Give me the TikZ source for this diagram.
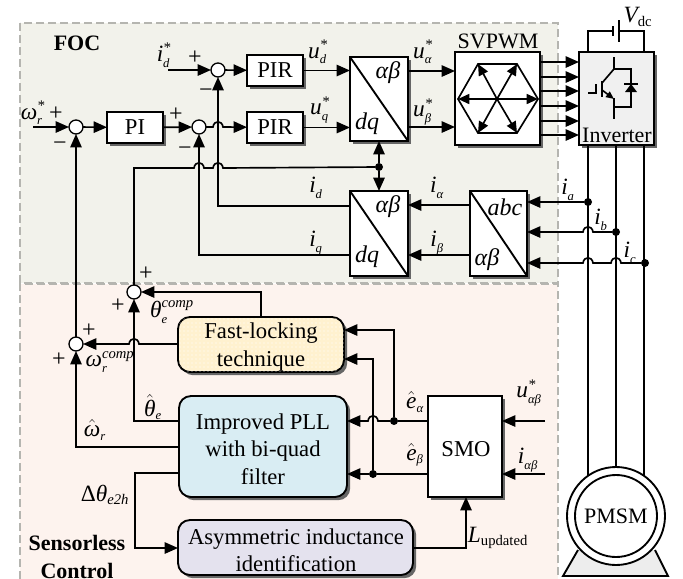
\documentclass[tikz,border=0pt]{standalone}
\usepackage{fontspec}
\setmainfont{Liberation Serif}
\usetikzlibrary{arrows.meta,shadows,fit,patterns}
\newcommand{\fs}[1]{\fontsize{#1}{#1}\selectfont}
\newcommand{\sv}[3]{$\mbox{\itshape #1}_{\mbox{\fs{9.5}\itshape #2}}^{\mbox{\fs{11}\itshape #3}}$}
\newcommand{\hv}[2]{$\hat{\mbox{\itshape #1}}_{\mbox{\fs{9.5}\itshape #2}}$}
\newcommand{\jl}[2]{-- (#1+5,#2) .. controls (#1+4,#2-7) and (#1-4,#2-7) .. (#1-5,#2)}
\newcommand{\jr}[2]{-- (#1-5,#2) .. controls (#1-4,#2-7) and (#1+4,#2-7) .. (#1+5,#2)}
\definecolor{focbg}{HTML}{F2F2EB}
\definecolor{smcbg}{HTML}{FDF3EE}
\definecolor{dashc}{HTML}{B5B5B0}
\definecolor{fastc}{HTML}{FFF1CF}
\definecolor{pllc}{HTML}{D9EDF3}
\definecolor{asymc}{HTML}{E4E2EE}
\tikzset{
  wire/.style={line width=1.25pt,line join=miter},
  arr/.style={wire,-{Triangle[length=10pt,width=8.5pt]}},
  harr/.style={wire,-{Triangle[length=8.5pt,width=7.5pt]}},
  region/.style={draw=dashc,dash pattern=on 6pt off 3pt,line width=0.9pt},
  shad/.style={drop shadow={shadow xshift=2.4pt,shadow yshift=-2.4pt,fill=black!60,opacity=1}},
  blockbox/.style={draw,line width=1.4pt,fill=white,inner sep=0pt,outer sep=0pt,shad},
  roundbox/.style={blockbox,rounded corners=9pt},
  blocktext/.style={inner sep=0pt,align=center,font=\fontsize{17}{20.5}\selectfont},
  sumc/.style={circle,draw,line width=1pt,fill=white,minimum size=10.5pt,inner sep=0pt,outer sep=0pt},
  jdot/.style={circle,fill=black,minimum size=6pt,inner sep=0pt,outer sep=0pt},
  lab/.style={inner sep=0pt,font=\fs{17.5}},
  sgn/.style={inner sep=0pt,font=\fs{18}},
  heading/.style={inner sep=0pt,font=\bfseries\fs{16.5},align=center},
}
\begin{document}
\begin{tikzpicture}[x=0.75pt,y=-0.75pt]
\useasboundingbox (0,0) rectangle (683,579);
\fill[white] (0,0) rectangle (683,579);
% regions
\path[region,fill=focbg] (20,23) rectangle (558,283);
\fill[smcbg] (20,284) rectangle (558,579);
\draw[region] (20,579) -- (20,284) -- (558,284) -- (558,579);
% summing junctions
\node[sumc] (s1) at (76,127) {};
\node[sumc] (s2) at (199,127) {};
\node[sumc] (s3) at (218,70) {};
\node[sumc] (s4) at (134,292) {};
\node[sumc] (s5) at (76,344) {};
% blocks
\node[blockbox,fit={(107,112) (163,143)}] (pi) {};
\node[blockbox,fit={(247,55) (303,86)}] (pir1) {};
\node[blockbox,fit={(247,112) (303,143)}] (pir2) {};
\node[blockbox,fit={(350,57) (408,141)}] (dq1) {};
\node[blockbox,fit={(350,191) (408,276)}] (dq2) {};
\node[blockbox,fit={(470,191) (527,276)}] (abc) {};
\node[blockbox,fit={(455,52) (540,145)}] (svpwm) {};
\node[blockbox,fit={(579,52) (654,145)},fill=black!6] (inv) {};
\draw[line width=1.4pt] (dq1.north west) -- (dq1.south east);
\draw[line width=1.4pt] (dq2.north west) -- (dq2.south east);
\draw[line width=1.4pt] (abc.north west) -- (abc.south east);
\node[roundbox,fit={(178,317) (344,372)},fill=fastc,postaction={pattern=dots,pattern color=white}] (fast) {};
\node[roundbox,fit={(179,396) (347,497)},fill=pllc] (pll) {};
\node[roundbox,fit={(178,520) (413,575)},fill=asymc] (asym) {};
\node[blockbox,fit={(428,396) (502,497)}] (smo) {};
\node[blocktext] (tpi) at (pi) {PI};
\node[blocktext] (tpir1) at (pir1) {PIR};
\node[blocktext] (tpir2) at (pir2) {PIR};
\node[blocktext] (tfast) at (261,347) {Fast-locking\\[0pt]technique};
\node[blocktext] (tpll) at (263,449) {Improved PLL\\[0pt]with bi-quad\\[0pt]filter};
\node[blocktext] (tasym) at (296,550) {Asymmetric inductance\\[0pt]identification};
\node[blocktext] (tsmo) at (466,449) {SMO};
% top chain
\coordinate (wstar) at (33,127);
\coordinate (idstar) at (168,70);
\draw[arr] (wstar) -- (s1);
\draw[arr] (s1) -- (pi);
\draw[arr] (pi) -- (s2);
\draw[arr] (idstar) -- (s3);
\draw[arr] (s3) -- (pir1);
\draw[arr] (s2) \jr{218}{127} -- (pir2);
\draw[arr] (pir1) -- (dq1.west |- pir1);
\draw[arr] (pir2) -- (dq1.west |- pir2);
\draw[arr] (dq1.east |- 0,71) -- (svpwm.west |- 0,71);
\draw[arr] (dq1.east |- 0,127) -- (svpwm.west |- 0,127);
\foreach \yy in {62,77,91,106,121,135} \draw[arr] (svpwm.east |- 0,\yy) -- (inv.west |- 0,\yy);
% hexagon
\coordinate (hc) at (497,99);
\draw[line width=1.25pt] (458,99) -- (478,64) -- (517,64) -- (538,99) -- (517,133) -- (478,133) -- cycle;
\foreach \px/\py in {478/64,517/64,478/133,517/133} \draw[harr] (hc) -- (\px,\py);
\draw[wire,{Triangle[length=8.5pt,width=7.5pt]}-{Triangle[length=8.5pt,width=7.5pt]}] (458,99) -- (538,99);
% feedback
\node[jdot] (jt) at (379,167) {};
\draw[arr] (jt) -- (dq1.south);
\draw[arr] (jt) -- (dq2.north);
\draw[wire] (s4) -- (134,168) \jr{199}{168} \jr{218}{168} -- (jt);
\draw[wire,{Triangle[length=10pt,width=8.5pt]}-] (s3) -- (218,206) -- (dq2.west |- 0,206);
\draw[wire,{Triangle[length=10pt,width=8.5pt]}-] (s2) -- (199,255) -- (dq2.west |- 0,255);
\draw[arr] (abc.west |- 0,205) -- (dq2.east |- 0,205);
\draw[arr] (abc.west |- 0,255) -- (dq2.east |- 0,255);
% motor
\fill[black!7] (578,550) -- (655,550) -- (668,576) -- (563,576) -- cycle;
\draw[line width=1.4pt] (578,550) -- (563,576) -- (668,576) -- (655,550);
\node[circle,draw,line width=1.4pt,fill=white,minimum size=73.5pt,inner sep=0pt,outer sep=0pt] (motor) at (616,516) {};
\node[circle,draw,line width=1.4pt,fill=white,minimum size=61.5pt,inner sep=0pt,font=\fs{16.5}] (motorin) at (616,516) {PMSM};
\draw[wire] (inv.south -| motor.125) -- (motor.125);
\draw[wire] (inv.south -| motor.north) -- (motor.north);
\draw[wire] (inv.south -| motor.55) -- (motor.55);
% phase currents
\node[jdot] (ja) at (588,202) {};
\node[jdot] (jb) at (616,232) {};
\node[jdot] (jc) at (645,263) {};
\draw[arr] (ja) -- (abc.east |- ja);
\draw[arr] (jb) \jl{588}{232} -- (abc.east |- jb);
\draw[arr] (jc) \jl{616}{263} \jl{588}{263} -- (abc.east |- jc);
% Vdc
\coordinate (batl) at (613,31);
\coordinate (batr) at (619,31);
\draw[wire] (inv.north -| motor.125) -- (motor.125 |- batl) -- (batl);
\draw[wire] (inv.north -| motor.55) -- (motor.55 |- batr) -- (batr);
\draw[wire] (613,26) -- (613,36);
\draw[wire] (619,20) -- (619,42);
% IGBT
\draw[wire] (614,57) -- (614,69) -- (602,83);
\draw[line width=1.6pt] (602,81) -- (602,97);
\draw[wire,-{Triangle[length=6pt,width=5pt]}] (602,90) -- (614,99);
\draw[wire] (614,98) -- (614,119);
\draw[wire] (588,93) -- (596,93) -- (596,84);
\draw[wire] (614,69) -- (631,69) -- (631,107) -- (614,107);
\fill (625,92) -- (637,92) -- (631,84) -- cycle;
\draw[wire] (624,84) -- (638,84);
% sensorless
\draw[arr] (fast.north |- 0,317) -- (261,292) -- (s4);
\draw[arr] (fast.west |- 0,344) \jl{134}{344} -- (s5);
\draw[arr] (pll.west |- 0,421) -- (134,421) -- (s4);
\draw[arr] (pll.west |- 0,447) -- (76,447) -- (s5);
\draw[arr] (s5) -- (s1);
\draw[arr] (pll.west |- 0,473) -- (135,473) -- (135,548) -- (asym.west |- 0,548);
\draw[arr] (asym.east |- 0,548) -- (466,548) -- (smo.south -| 466,0);
\node[jdot] (je) at (394,421) {};
\node[jdot] (jf) at (373,474) {};
\draw[wire] (smo.west |- je) -- (je);
\draw[arr] (je) \jl{373}{421} -- (pll.east |- je);
\draw[wire] (smo.west |- jf) -- (jf);
\draw[arr] (jf) -- (pll.east |- jf);
\draw[arr] (je) -- (394,330) -- (fast.east |- 0,330);
\draw[arr] (jf) -- (373,359) -- (fast.east |- 0,359);
\coordinate (uin) at (545,421);
\coordinate (iin) at (545,474);
\draw[arr] (uin) -- (smo.east |- uin);
\draw[arr] (iin) -- (smo.east |- iin);
% texts
\node[heading] (tfoc) at (77,43) {FOC};
\node[heading] (tsc) at (77,557) {Sensorless\\[4pt]Control};
\node[inner sep=0pt,font=\fs{16.5}] (tsv) at (498,41) {SVPWM};
\node[inner sep=0pt,font=\fs{16.5}] (tinv) at (617,135) {Inverter};
\node[lab] (l1) at (33,113) {\sv{ω}{r}{*}};
\node[lab] (l2) at (164,55) {\sv{i}{d}{*}};
\node[lab] (l3) at (318,52) {\sv{u}{d}{*}};
\node[lab] (l4) at (320,110) {\sv{u}{q}{*}};
\node[lab] (l5) at (316,188) {\sv{i}{d}{}};
\node[lab] (l6) at (316,243) {\sv{i}{q}{}};
\node[lab] (l7) at (423,52) {\sv{u}{α}{*}};
\node[lab] (l8) at (423,112) {\sv{u}{β}{*}};
\node[lab] (l9) at (437,188) {\sv{i}{α}{}};
\node[lab] (l10) at (437,243) {\sv{i}{β}{}};
\node[lab] (l11) at (568,190) {\sv{i}{a}{}};
\node[lab] (l12) at (601,220) {\sv{i}{b}{}};
\node[lab] (l13) at (630,253) {\sv{i}{c}{}};
\node[lab] (l14) at (638,17) {$\mbox{\itshape V}_{\mbox{\fs{11}dc}}$};
\node[lab] (l15) at (498,538) {$\mbox{\itshape L}_{\mbox{\fs{11}updated}}$};
\node[lab] (l16) at (415,402) {\hv{e}{α}};
\node[lab] (l17) at (415,455) {\hv{e}{β}};
\node[lab] (l18) at (529,393) {\sv{u}{αβ}{*}};
\node[lab] (l19) at (528,460) {\sv{i}{αβ}{}};
\node[lab] (l20) at (172,312) {\sv{θ}{e}{comp}};
\node[lab] (l21) at (110,362) {\sv{ω}{r}{comp}};
\node[lab] (l22) at (153,407) {\hv{θ}{e}};
\node[lab] (l23) at (95,430) {\hv{ω}{r}};
\node[lab] (l24) at (105,495) {$\mbox{Δ\itshape θ}_{\mbox{\fs{11}\itshape e2h}}$};
\node[lab,font=\fs{18}] (a1) at (388,73) {\itshape αβ};
\node[lab,font=\fs{18}] (a2) at (367,124) {\itshape dq};
\node[lab,font=\fs{18}] (a3) at (388,207) {\itshape αβ};
\node[lab,font=\fs{18}] (a4) at (367,257) {\itshape dq};
\node[lab,font=\fs{18}] (a5) at (505,207) {\itshape abc};
\node[lab,font=\fs{18}] (a6) at (487,260) {\itshape αβ};
% signs
\node[sgn] (p1) at (56,114) {+};
\node[sgn] (m1) at (60,146) {−};
\node[sgn] (p2) at (176,115) {+};
\node[sgn] (m2) at (185,151) {−};
\node[sgn] (p3) at (195,58) {+};
\node[sgn] (m3) at (206,93) {−};
\node[sgn] (p4) at (146,274) {+};
\node[sgn] (p5) at (118,306) {+};
\node[sgn] (p6) at (89,331) {+};
\node[sgn] (p7) at (59,360) {+};
\end{tikzpicture}
\end{document}
